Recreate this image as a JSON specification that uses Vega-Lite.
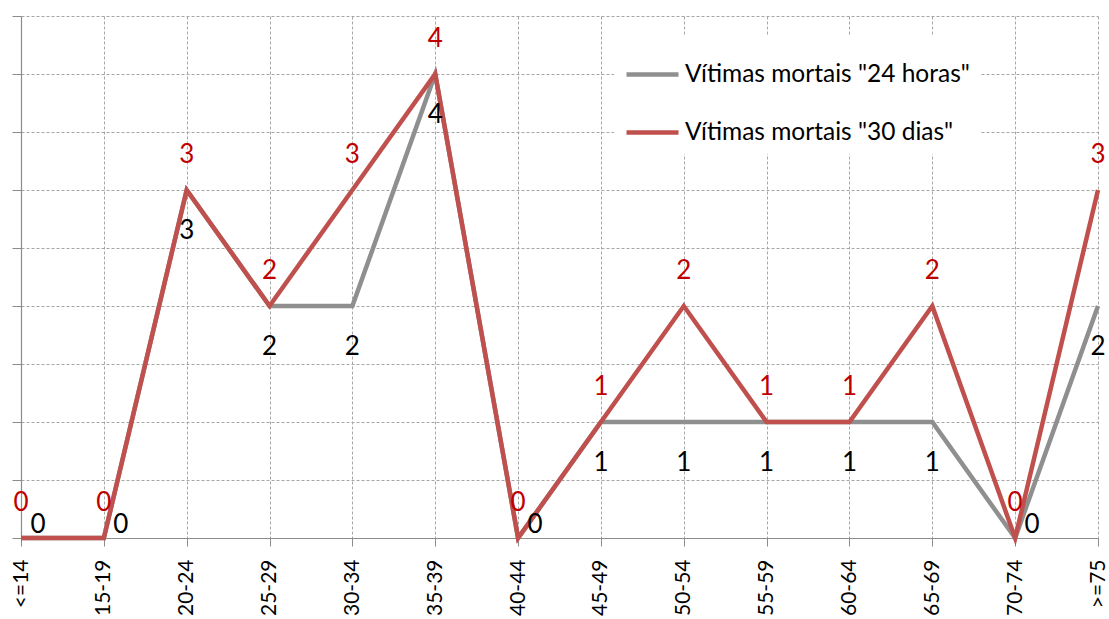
{
  "$schema": "https://vega.github.io/schema/vega-lite/v6.json",
  "autosize": {"type": "none"},
  "width": 1077,
  "height": 522,
  "padding": {"left": 21, "top": 16, "right": 11, "bottom": 81},
  "background": "white",
  "config": {
    "font": "Lato",
    "view": {"stroke": null},
    "axis": {"domainColor": "#8c8c8c", "tickColor": "#8c8c8c", "gridColor": "#a6a6a6", "gridDash": [3, 2], "gridWidth": 1, "domainWidth": 1.2}
  },
  "data": {
    "values": [
      {"idade": "<=14", "serie": "Vítimas mortais \"24 horas\"", "valor": 0},
      {"idade": "15-19", "serie": "Vítimas mortais \"24 horas\"", "valor": 0},
      {"idade": "20-24", "serie": "Vítimas mortais \"24 horas\"", "valor": 3},
      {"idade": "25-29", "serie": "Vítimas mortais \"24 horas\"", "valor": 2},
      {"idade": "30-34", "serie": "Vítimas mortais \"24 horas\"", "valor": 2},
      {"idade": "35-39", "serie": "Vítimas mortais \"24 horas\"", "valor": 4},
      {"idade": "40-44", "serie": "Vítimas mortais \"24 horas\"", "valor": 0},
      {"idade": "45-49", "serie": "Vítimas mortais \"24 horas\"", "valor": 1},
      {"idade": "50-54", "serie": "Vítimas mortais \"24 horas\"", "valor": 1},
      {"idade": "55-59", "serie": "Vítimas mortais \"24 horas\"", "valor": 1},
      {"idade": "60-64", "serie": "Vítimas mortais \"24 horas\"", "valor": 1},
      {"idade": "65-69", "serie": "Vítimas mortais \"24 horas\"", "valor": 1},
      {"idade": "70-74", "serie": "Vítimas mortais \"24 horas\"", "valor": 0},
      {"idade": ">=75", "serie": "Vítimas mortais \"24 horas\"", "valor": 2},
      {"idade": "<=14", "serie": "Vítimas mortais \"30 dias\"", "valor": 0},
      {"idade": "15-19", "serie": "Vítimas mortais \"30 dias\"", "valor": 0},
      {"idade": "20-24", "serie": "Vítimas mortais \"30 dias\"", "valor": 3},
      {"idade": "25-29", "serie": "Vítimas mortais \"30 dias\"", "valor": 2},
      {"idade": "30-34", "serie": "Vítimas mortais \"30 dias\"", "valor": 3},
      {"idade": "35-39", "serie": "Vítimas mortais \"30 dias\"", "valor": 4},
      {"idade": "40-44", "serie": "Vítimas mortais \"30 dias\"", "valor": 0},
      {"idade": "45-49", "serie": "Vítimas mortais \"30 dias\"", "valor": 1},
      {"idade": "50-54", "serie": "Vítimas mortais \"30 dias\"", "valor": 2},
      {"idade": "55-59", "serie": "Vítimas mortais \"30 dias\"", "valor": 1},
      {"idade": "60-64", "serie": "Vítimas mortais \"30 dias\"", "valor": 1},
      {"idade": "65-69", "serie": "Vítimas mortais \"30 dias\"", "valor": 2},
      {"idade": "70-74", "serie": "Vítimas mortais \"30 dias\"", "valor": 0},
      {"idade": ">=75", "serie": "Vítimas mortais \"30 dias\"", "valor": 3}
    ]
  },
  "encoding": {
    "x": {
      "field": "idade", "type": "ordinal",
      "sort": ["<=14", "15-19", "20-24", "25-29", "30-34", "35-39", "40-44", "45-49", "50-54", "55-59", "60-64", "65-69", "70-74", ">=75"],
      "scale": {"type": "point", "padding": 0},
      "axis": {"title": null, "grid": true, "labelAngle": -90, "labelFontSize": 21, "labelColor": "#000000", "tickSize": 8, "labelPadding": 13}
    },
    "y": {
      "field": "valor", "type": "quantitative",
      "scale": {"domain": [0, 4.5], "nice": false},
      "axis": {"title": null, "labels": false, "grid": true, "tickSize": 9, "values": [0, 0.5, 1, 1.5, 2, 2.5, 3, 3.5, 4, 4.5]}
    }
  },
  "layer": [
    {
      "mark": {"type": "line", "strokeWidth": 4.5},
      "encoding": {
        "color": {
          "field": "serie", "type": "nominal",
          "scale": {"domain": ["Vítimas mortais \"24 horas\"", "Vítimas mortais \"30 dias\""], "range": ["#8f8f8f", "#c0504d"]},
          "legend": {
            "title": null, "orient": "none", "legendX": 593, "legendY": 20,
            "symbolType": "stroke", "symbolSize": 2704, "symbolStrokeWidth": 4.5,
            "labelFontSize": 24.5, "labelColor": "#000000", "labelOffset": 4, "labelLimit": 400,
            "rowPadding": 18, "padding": 10, "fillColor": "white"
          }
        }
      }
    },
    {
      "transform": [{"filter": "datum.serie === 'Vítimas mortais \"30 dias\"'"}],
      "mark": {"type": "text", "dy": -35, "fontSize": 26, "color": "#c00000"},
      "encoding": {"text": {"field": "valor", "type": "quantitative"}}
    },
    {
      "transform": [{"filter": "datum.serie === 'Vítimas mortais \"24 horas\"' && datum.valor > 0"}],
      "mark": {"type": "text", "dy": 41, "fontSize": 26, "color": "#000000"},
      "encoding": {"text": {"field": "valor", "type": "quantitative"}}
    },
    {
      "transform": [{"filter": "datum.serie === 'Vítimas mortais \"24 horas\"' && datum.valor === 0"}],
      "mark": {"type": "text", "dx": 17, "dy": -13, "fontSize": 26, "color": "#000000"},
      "encoding": {"text": {"field": "valor", "type": "quantitative"}}
    }
  ]
}
